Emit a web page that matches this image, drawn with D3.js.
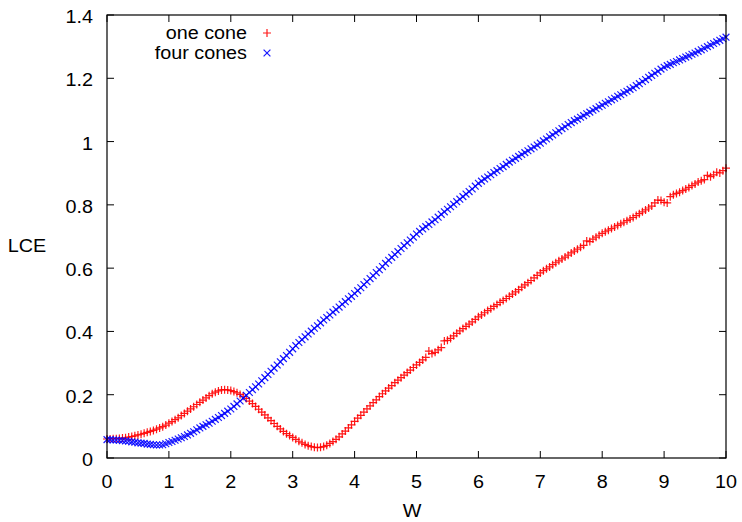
<!DOCTYPE html>
<html>
<head>
<meta charset="utf-8">
<script src="https://cdn.jsdelivr.net/npm/d3@7"></script>
<style>
  html, body { margin: 0; padding: 0; background: #fff; }
  svg { display: block; }
  text { font-family: "Liberation Sans", Arial, sans-serif; fill: #000; }
</style>
</head>
<body>
<svg id="chart" width="742" height="522"></svg>
<script>
// ---- data ----
const wStart = 0, wStep = 0.05;
const oneCone = [
  0.060,0.060,0.061,0.061,0.062,0.063,0.064,0.066,0.068,0.070,0.073,
  0.075,0.078,0.081,0.084,0.087,0.091,0.095,0.099,0.104,0.110,
  0.115,0.121,0.127,0.134,0.141,0.148,0.155,0.162,0.169,0.176,
  0.183,0.190,0.197,0.203,0.208,0.212,0.215,0.216,0.215,0.213,
  0.210,0.206,0.201,0.195,0.188,0.180,0.172,0.163,0.154,0.145,
  0.136,0.127,0.118,0.109,0.100,0.092,0.084,0.077,0.071,0.065,
  0.059,0.053,0.048,0.043,0.039,0.036,0.034,0.033,0.034,0.036,
  0.040,0.046,0.052,0.059,0.067,0.076,0.085,0.095,0.105,0.116,
  0.126,0.135,0.145,0.155,0.165,0.175,0.184,0.194,0.203,0.212,
  0.221,0.229,0.238,0.246,0.254,0.262,0.270,0.278,0.286,0.294,
  0.302,0.310,0.318,0.338,0.330,0.334,0.342,0.349,0.370,0.372,
  0.378,0.386,0.394,0.402,0.409,0.416,0.423,0.430,0.438,0.446,
  0.452,0.459,0.466,0.472,0.479,0.485,0.492,0.498,0.504,0.511,
  0.518,0.525,0.532,0.540,0.547,0.554,0.561,0.569,0.577,0.585,
  0.592,0.598,0.604,0.611,0.617,0.623,0.629,0.635,0.641,0.648,
  0.654,0.660,0.666,0.672,0.686,0.684,0.692,0.698,0.704,0.710,
  0.715,0.720,0.725,0.730,0.735,0.740,0.745,0.750,0.755,0.760,
  0.766,0.772,0.778,0.784,0.790,0.796,0.806,0.815,0.814,0.808,
  0.806,0.826,0.832,0.836,0.840,0.845,0.850,0.855,0.861,0.866,
  0.872,0.876,0.880,0.893,0.889,0.895,0.903,0.901,0.908,0.916
];
const fourCones = [
  0.058,0.058,0.057,0.057,0.056,0.055,0.054,0.053,0.051,0.050,0.048,
  0.047,0.046,0.044,0.043,0.042,0.041,0.041,0.042,0.045,0.049,
  0.052,0.056,0.060,0.064,0.068,0.073,0.078,0.083,0.089,0.095,
  0.100,0.105,0.110,0.116,0.122,0.128,0.134,0.141,0.148,0.155,
  0.163,0.171,0.180,0.189,0.198,0.207,0.216,0.225,0.234,0.244,
  0.254,0.264,0.274,0.284,0.294,0.304,0.314,0.324,0.334,0.345,
  0.355,0.365,0.374,0.383,0.392,0.401,0.410,0.418,0.427,0.436,
  0.444,0.452,0.461,0.469,0.477,0.486,0.494,0.503,0.511,0.520,
  0.529,0.538,0.548,0.557,0.567,0.576,0.586,0.595,0.605,0.615,
  0.625,0.634,0.643,0.652,0.662,0.671,0.680,0.689,0.698,0.708,
  0.716,0.724,0.731,0.738,0.746,0.753,0.761,0.770,0.778,0.786,
  0.794,0.802,0.810,0.818,0.826,0.834,0.842,0.850,0.859,0.868,
  0.875,0.882,0.888,0.895,0.902,0.908,0.915,0.921,0.928,0.935,
  0.941,0.947,0.953,0.959,0.965,0.971,0.977,0.983,0.989,0.995,
  1.002,1.008,1.015,1.021,1.028,1.034,1.041,1.047,1.054,1.060,
  1.066,1.071,1.077,1.082,1.088,1.093,1.099,1.104,1.110,1.115,
  1.121,1.126,1.132,1.137,1.143,1.148,1.154,1.159,1.165,1.170,
  1.177,1.183,1.190,1.196,1.203,1.209,1.216,1.222,1.229,1.235,
  1.240,1.244,1.249,1.253,1.258,1.262,1.267,1.271,1.276,1.280,
  1.285,1.290,1.295,1.300,1.305,1.310,1.315,1.320,1.325,1.330
];
const seriesNames = ["one cone", "four cones"];
const xTicks = [0,1,2,3,4,5,6,7,8,9,10];
const yTicks = [0,0.2,0.4,0.6,0.8,1,1.2,1.4];
const xLabel = "W", yLabel = "LCE";

// ---- layout ----
const L = 107, R = 726, T = 15, B = 458;
const svg = d3.select("#chart");
const x = d3.scaleLinear().domain([0, 10]).range([L, R]);
const y = d3.scaleLinear().domain([0, 1.4]).range([B, T]);
const FS = 17.5, SX = 1.13;
const tickLen = 7;

// ticks (inside, mirrored)
const g = svg.append("g");
xTicks.forEach(t => {
  g.append("line").attr("x1", x(t)).attr("x2", x(t)).attr("y1", B).attr("y2", B - tickLen).attr("stroke", "#000");
  g.append("line").attr("x1", x(t)).attr("x2", x(t)).attr("y1", T).attr("y2", T + tickLen).attr("stroke", "#000");
});
yTicks.forEach(t => {
  g.append("line").attr("x1", L).attr("x2", L + tickLen).attr("y1", y(t)).attr("y2", y(t)).attr("stroke", "#000");
  g.append("line").attr("x1", R).attr("x2", R - tickLen).attr("y1", y(t)).attr("y2", y(t)).attr("stroke", "#000");
});

function label(txt, px, py, anchor) {
  svg.append("text")
    .attr("transform", `translate(${px},${py}) scale(${SX},1)`)
    .attr("text-anchor", anchor)
    .attr("font-size", FS)
    .text(txt);
}
xTicks.forEach(t => label(d3.format("")(t), x(t), 488, "middle"));
yTicks.forEach(t => label(d3.format("")(t), 93, y(t) + 8, "end"));
label(xLabel, 412, 517, "middle");
label(yLabel, 27, 252, "middle");

// markers
const h = 4;
function plus(sel, cx, cy, color) {
  sel.append("path").attr("d", `M${cx - h},${cy}H${cx + h}M${cx},${cy - h}V${cy + h}`)
    .attr("stroke", color).attr("stroke-width", 1.2).attr("fill", "none").attr("stroke-opacity", 0.9);
}
function cross(sel, cx, cy, color) {
  const k = 3.4;
  sel.append("path").attr("d", `M${cx - k},${cy - k}L${cx + k},${cy + k}M${cx - k},${cy + k}L${cx + k},${cy - k}`)
    .attr("stroke", color).attr("stroke-width", 1.2).attr("fill", "none").attr("stroke-opacity", 0.9);
}
const pts = svg.append("g");
oneCone.forEach((v, i) => plus(pts, x(wStart + i * wStep), y(v), "#ff0000"));
fourCones.forEach((v, i) => cross(pts, x(wStart + i * wStep), y(v), "#0000ff"));

// legend
label(seriesNames[0], 247, 39, "end");
label(seriesNames[1], 247, 59, "end");
plus(svg, 267, 33, "#ff0000");
cross(svg, 267, 53, "#0000ff");

// border
svg.append("rect").attr("x", L).attr("y", T).attr("width", R - L).attr("height", B - T)
  .attr("fill", "none").attr("stroke", "#000").attr("stroke-width", 1.2);
</script>
</body>
</html>
